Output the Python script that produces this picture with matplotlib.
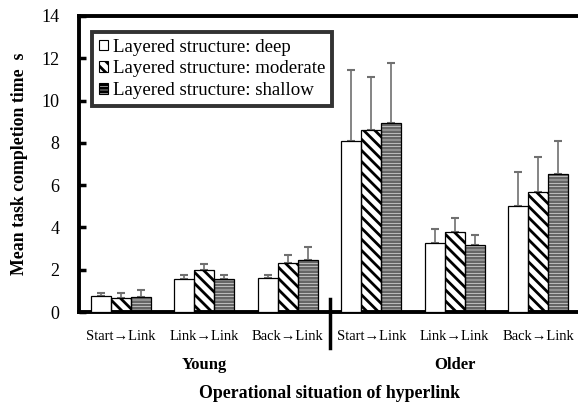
import numpy as np
import matplotlib.pyplot as plt

plt.rcParams['font.family'] = ['Liberation Serif', 'DejaVu Serif']
plt.rcParams['hatch.linewidth'] = 2.0

# data
situations = ["Start\u2192Link", "Link\u2192Link", "Back\u2192Link",
              "Start\u2192Link", "Link\u2192Link", "Back\u2192Link"]
groups = ["Young", "Older"]
series = ["Layered structure: deep", "Layered structure: moderate", "Layered structure: shallow"]

deep = [0.78, 1.58, 1.62, 8.09, 3.25, 5.01]
moderate = [0.68, 1.97, 2.30, 8.59, 3.80, 5.66]
shallow = [0.72, 1.58, 2.45, 8.94, 3.15, 6.51]
deep_err = [0.12, 0.19, 0.15, 3.34, 0.69, 1.60]
moderate_err = [0.22, 0.28, 0.38, 2.53, 0.63, 1.69]
shallow_err = [0.31, 0.19, 0.62, 2.82, 0.51, 1.59]

values = [deep, moderate, shallow]
errors = [deep_err, moderate_err, shallow_err]
hatches = [None, "\\\\\\", "-----"]
hatch_cols = [None, "black", "#666666"]

fig = plt.figure(figsize=(5.78, 4.05), dpi=100)
ax = fig.add_axes([0.1367, 0.2296, 0.8668, 0.7309])

x = np.arange(len(situations))
w = 0.24
for i in range(3):
    pos = x + (i - 1) * w
    if hatches[i]:
        ax.bar(pos, values[i], w, color="white", edgecolor=hatch_cols[i],
               hatch=hatches[i], linewidth=0, zorder=2)
    ax.bar(pos, values[i], w, fill=(hatches[i] is None), facecolor="white",
           edgecolor="black", linewidth=0.9, zorder=3)
    ax.errorbar(pos, values[i], yerr=[np.zeros(6), errors[i]], fmt="none",
                ecolor="#707070", elinewidth=1.2, capsize=3, capthick=1.5, zorder=1)

# legend proxies
handles = []
for i in range(3):
    h = plt.Rectangle((0, 0), 1, 1, facecolor="white", edgecolor="black",
                      hatch=hatches[i], linewidth=0.8)
    handles.append(h)
leg = fig.legend(handles, series, loc="upper left", bbox_to_anchor=(0.159, 0.921),
                 fontsize=13.6, frameon=True, fancybox=False, edgecolor="black",
                 handlelength=0.5, handleheight=0.5, handletextpad=0.25,
                 labelspacing=0.25, borderpad=0.35, borderaxespad=0)
leg.get_frame().set_linewidth(2.8)

ax.set_xlim(-0.5, 5.5)
ax.set_ylim(0, 14)
ax.set_yticks(range(0, 15, 2))
ax.tick_params(axis="y", direction="in", length=5, width=2.5, labelsize=13, pad=14)
ax.set_xticks(x)
ax.set_xticklabels(situations, fontsize=10.5)
ax.tick_params(axis="x", length=0, pad=13)

for s in ["left", "bottom", "top"]:
    ax.spines[s].set_linewidth(2.8)
ax.spines["right"].set_visible(False)

# separator between age groups
ax.plot([2.5, 2.5], [-1.7, 0.6], color="black", linewidth=2.5, clip_on=False, zorder=4)

for j, g in enumerate(groups):
    ax.text(1 + 3 * j, -2.5, g, ha="center", va="center", fontsize=12,
            fontweight="bold", transform=ax.transData)

ax.set_xlabel("Operational situation of hyperlink", fontsize=12.8, fontweight="bold", labelpad=30)
ax.set_ylabel("Mean task completion time  s", fontsize=12.8, fontweight="bold", labelpad=10)

fig.savefig("out.png", dpi=100)
